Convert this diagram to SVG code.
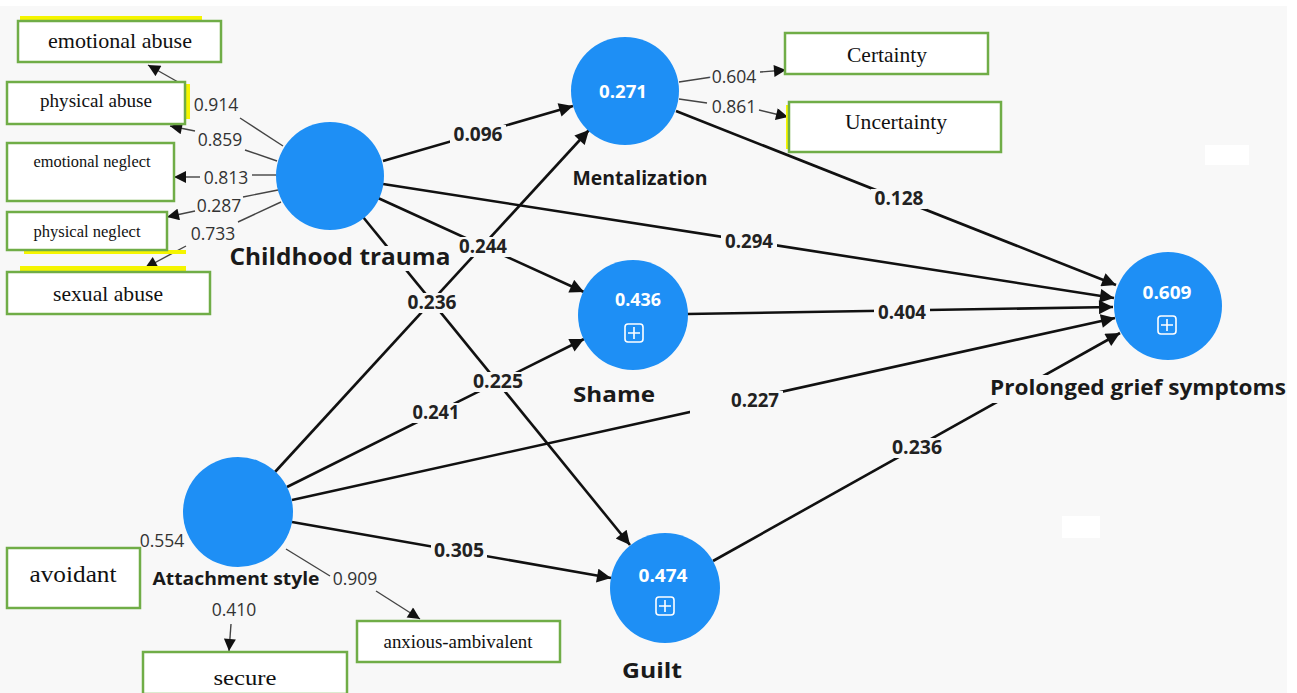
<svg xmlns="http://www.w3.org/2000/svg" width="1297" height="693" viewBox="0 0 1297 693">
<defs>
<style>
.bg{fill:#f8f8f8}
.lv{fill:#1e8ff5}
.ind{fill:#fff;stroke:#70ad47;stroke-width:2.5}
.hl{fill:#f5f500}
.it{font-family:"Liberation Serif",serif;fill:#111;text-anchor:middle}
.nm{font-family:"Open Sans","Noto Sans",sans-serif;font-weight:bold;fill:#1a1a1a;text-anchor:middle}
.r2{font-family:"Open Sans","Noto Sans",sans-serif;font-weight:bold;fill:#fff;text-anchor:middle;font-size:18px}
.path{stroke:#111;stroke-width:2.6;fill:none}
.load{stroke:#444;stroke-width:1.4;fill:none}
.pl{font-family:"Open Sans","Noto Sans",sans-serif;font-weight:bold;font-size:19px;fill:#222;text-anchor:middle}
.ll{font-family:"Open Sans","Noto Sans",sans-serif;font-size:17.5px;fill:#333;text-anchor:middle;stroke:#f8f8f8;stroke-width:5;paint-order:stroke;stroke-linejoin:round}
.icon{fill:none;stroke:#fff;stroke-width:1.6}
</style>
<marker id="ah" viewBox="0 0 10 10" refX="10" refY="5" markerWidth="16" markerHeight="14" markerUnits="userSpaceOnUse" orient="auto">
<path d="M0,0 L10,5 L0,10 z" fill="#111"/>
</marker>
<marker id="as" viewBox="0 0 10 10" refX="10" refY="5" markerWidth="13" markerHeight="12" markerUnits="userSpaceOnUse" orient="auto">
<path d="M0,0 L10,5 L0,10 z" fill="#111"/>
</marker>
</defs>
<rect x="0" y="0" width="1297" height="693" fill="#fff"/>
<rect class="bg" x="0" y="6" width="1287" height="687"/>
<rect x="1205" y="145" width="44" height="20" fill="#fff"/>
<rect x="1062" y="516" width="38" height="22" fill="#fff"/>

<g id="connectors">
<line class="path" x1="383" y1="161" x2="573" y2="106" marker-end="url(#ah)"/>
<line class="path" x1="383" y1="184" x2="1114" y2="298" marker-end="url(#ah)"/>
<line class="path" x1="378" y1="198" x2="584" y2="292" marker-end="url(#ah)"/>
<line class="path" x1="363" y1="217" x2="630" y2="545" marker-end="url(#ah)"/>
<line class="path" x1="275" y1="472" x2="589" y2="130" marker-end="url(#ah)"/>
<line class="path" x1="287" y1="487" x2="584" y2="339" marker-end="url(#ah)"/>
<line class="path" x1="292" y1="500" x2="1115" y2="318" marker-end="url(#ah)"/>
<line class="path" x1="292" y1="522" x2="611" y2="578" marker-end="url(#ah)"/>
<line class="path" x1="687" y1="314" x2="1113" y2="307" marker-end="url(#ah)"/>
<line class="path" x1="676" y1="111" x2="1116" y2="285" marker-end="url(#ah)"/>
<line class="path" x1="713" y1="561" x2="1120" y2="333" marker-end="url(#ah)"/>
<rect class="bg" x="690" y="400" width="44" height="18"/>
<line class="load" x1="283" y1="146" x2="240" y2="118"/>
<line class="load" x1="178" y1="82" x2="148" y2="65" marker-end="url(#as)"/>
<line class="load" x1="277" y1="161" x2="245" y2="150"/>
<line class="load" x1="195" y1="131" x2="170" y2="126" marker-end="url(#as)"/>
<line class="load" x1="276" y1="175" x2="252" y2="175"/>
<line class="load" x1="200" y1="177" x2="174" y2="177" marker-end="url(#as)"/>
<line class="load" x1="278" y1="190" x2="243" y2="197"/>
<line class="load" x1="195" y1="211" x2="167" y2="217" marker-end="url(#as)"/>
<line class="load" x1="281" y1="202" x2="238" y2="222"/>
<line class="load" x1="186" y1="246" x2="145" y2="268" marker-end="url(#as)"/>
<line class="load" x1="679" y1="82" x2="712" y2="77"/>
<line class="load" x1="760" y1="72" x2="786" y2="70" marker-end="url(#as)"/>
<line class="load" x1="679" y1="99" x2="707" y2="103"/>
<line class="load" x1="759" y1="110" x2="788" y2="117" marker-end="url(#as)"/>
<line class="load" x1="286" y1="549" x2="330" y2="576"/>
<line class="load" x1="376" y1="591" x2="420" y2="619" marker-end="url(#as)"/>
<line class="load" x1="231" y1="624" x2="229" y2="651" marker-end="url(#as)"/>
<rect class="bg" x="450" y="125" width="56" height="20"/>
<text class="pl" x="478" y="141" textLength="49" lengthAdjust="spacingAndGlyphs">0.096</text>
<rect class="bg" x="721" y="232" width="56" height="20"/>
<text class="pl" x="749" y="248" textLength="48" lengthAdjust="spacingAndGlyphs">0.294</text>
<rect class="bg" x="455" y="237" width="56" height="20"/>
<text class="pl" x="483" y="253" textLength="48" lengthAdjust="spacingAndGlyphs">0.244</text>
<rect class="bg" x="404" y="293" width="56" height="20"/>
<text class="pl" x="432" y="309" textLength="49" lengthAdjust="spacingAndGlyphs">0.236</text>
<rect class="bg" x="470" y="372" width="56" height="20"/>
<text class="pl" x="498" y="388" textLength="50" lengthAdjust="spacingAndGlyphs">0.225</text>
<rect class="bg" x="408" y="403" width="56" height="20"/>
<text class="pl" x="436" y="419" textLength="47" lengthAdjust="spacingAndGlyphs">0.241</text>
<rect class="bg" x="727" y="391" width="56" height="20"/>
<text class="pl" x="755" y="407" textLength="48" lengthAdjust="spacingAndGlyphs">0.227</text>
<rect class="bg" x="431" y="541" width="56" height="20"/>
<text class="pl" x="459" y="557" textLength="50" lengthAdjust="spacingAndGlyphs">0.305</text>
<rect class="bg" x="874" y="303" width="56" height="20"/>
<text class="pl" x="902" y="319" textLength="48" lengthAdjust="spacingAndGlyphs">0.404</text>
<rect class="bg" x="871" y="189" width="56" height="20"/>
<text class="pl" x="899" y="205" textLength="49" lengthAdjust="spacingAndGlyphs">0.128</text>
<rect class="bg" x="889" y="438" width="56" height="20"/>
<text class="pl" x="917" y="454" textLength="50" lengthAdjust="spacingAndGlyphs">0.236</text>
<text class="ll" x="216" y="111">0.914</text>
<text class="ll" x="220" y="146">0.859</text>
<text class="ll" x="226" y="184">0.813</text>
<text class="ll" x="219" y="212">0.287</text>
<text class="ll" x="213" y="240">0.733</text>
<text class="ll" x="734" y="83">0.604</text>
<text class="ll" x="734" y="113">0.861</text>
<text class="ll" x="162" y="547">0.554</text>
<text class="ll" x="355" y="585">0.909</text>
<text class="ll" x="234" y="616">0.410</text>
</g>

<g id="childhood-trauma">
<circle class="lv" cx="330" cy="176" r="54"/>
<rect class="bg" x="228" y="246" width="224" height="25"/>
<text class="nm" x="340" y="265" font-size="23" textLength="221" lengthAdjust="spacingAndGlyphs">Childhood trauma</text>
</g>
<g id="mentalization">
<circle class="lv" cx="625" cy="91" r="54"/>
<text class="r2" x="623" y="98" textLength="48" lengthAdjust="spacingAndGlyphs">0.271</text>
<text class="nm" x="640" y="185" font-size="19" textLength="135" lengthAdjust="spacingAndGlyphs">Mentalization</text>
</g>
<g id="shame">
<circle class="lv" cx="633" cy="315" r="55"/>
<text class="r2" x="638" y="306" textLength="46" lengthAdjust="spacingAndGlyphs">0.436</text>
<rect class="icon" x="625" y="324" width="18" height="18" rx="3"/>
<path class="icon" d="M634,327 V339 M628,333 H640"/>
<text class="nm" x="614" y="402" font-size="21" textLength="82" lengthAdjust="spacingAndGlyphs">Shame</text>
</g>
<g id="prolonged-grief-symptoms">
<circle class="lv" cx="1168" cy="306" r="54"/>
<text class="r2" x="1167" y="299" textLength="49" lengthAdjust="spacingAndGlyphs">0.609</text>
<rect class="icon" x="1158" y="316" width="18" height="18" rx="3"/>
<path class="icon" d="M1167,319 V331 M1161,325 H1173"/>
<rect class="bg" x="988" y="375" width="298" height="28"/>
<text class="nm" x="1138" y="395" font-size="21.5" textLength="296" lengthAdjust="spacingAndGlyphs">Prolonged grief symptoms</text>
</g>
<g id="guilt">
<circle class="lv" cx="665" cy="588" r="55"/>
<text class="r2" x="663" y="582" textLength="49" lengthAdjust="spacingAndGlyphs">0.474</text>
<rect class="icon" x="656" y="597" width="18" height="18" rx="3"/>
<path class="icon" d="M665,600 V612 M659,606 H671"/>
<text class="nm" x="652" y="678" font-size="22" textLength="60" lengthAdjust="spacingAndGlyphs">Guilt</text>
</g>
<g id="attachment-style">
<circle class="lv" cx="238" cy="512" r="55"/>
<text class="nm" x="236" y="585" font-size="18" textLength="167" lengthAdjust="spacingAndGlyphs">Attachment style</text>
</g>

<g id="emotional-abuse">
<rect class="hl" x="20" y="16" width="182" height="5"/>
<rect class="ind" x="18" y="21" width="203" height="41"/>
<text class="it" x="120" y="48" font-size="21" textLength="144" lengthAdjust="spacingAndGlyphs">emotional abuse</text>
</g>
<g id="physical-abuse">
<rect class="hl" x="184" y="84" width="6" height="35"/>
<rect class="ind" x="7" y="82" width="178" height="42"/>
<text class="it" x="96" y="107" font-size="19" textLength="112" lengthAdjust="spacingAndGlyphs">physical abuse</text>
</g>
<g id="emotional-neglect">
<rect class="ind" x="7" y="143" width="167" height="58"/>
<text class="it" x="92" y="167" font-size="16" textLength="117" lengthAdjust="spacingAndGlyphs">emotional neglect</text>
</g>
<g id="physical-neglect">
<rect class="hl" x="24" y="250" width="162" height="4"/>
<rect class="ind" x="7" y="212" width="160" height="38"/>
<text class="it" x="87" y="237" font-size="16" textLength="107" lengthAdjust="spacingAndGlyphs">physical neglect</text>
</g>
<g id="sexual-abuse">
<rect class="hl" x="20" y="266" width="166" height="5"/>
<rect class="ind" x="7" y="272" width="203" height="42"/>
<text class="it" x="108" y="301" font-size="21" textLength="110" lengthAdjust="spacingAndGlyphs">sexual abuse</text>
</g>
<g id="certainty">
<rect class="ind" x="785" y="33" width="203" height="41"/>
<text class="it" x="887" y="62" font-size="21" textLength="80" lengthAdjust="spacingAndGlyphs">Certainty</text>
</g>
<g id="uncertainty">
<rect class="hl" x="786" y="105" width="4" height="44"/>
<rect class="ind" x="789" y="102" width="212" height="50"/>
<text class="it" x="896" y="129" font-size="21" textLength="102" lengthAdjust="spacingAndGlyphs">Uncertainty</text>
</g>
<g id="avoidant">
<rect class="ind" x="7" y="548" width="133" height="60"/>
<text class="it" x="73" y="582" font-size="23" textLength="87" lengthAdjust="spacingAndGlyphs">avoidant</text>
</g>
<g id="secure">
<rect class="ind" x="143" y="652" width="204" height="42"/>
<text class="it" x="245" y="685" font-size="22" textLength="63" lengthAdjust="spacingAndGlyphs">secure</text>
</g>
<g id="anxious-ambivalent">
<rect class="ind" x="357" y="621" width="203" height="41"/>
<text class="it" x="458" y="648" font-size="18" textLength="149" lengthAdjust="spacingAndGlyphs">anxious-ambivalent</text>
</g>
</svg>
